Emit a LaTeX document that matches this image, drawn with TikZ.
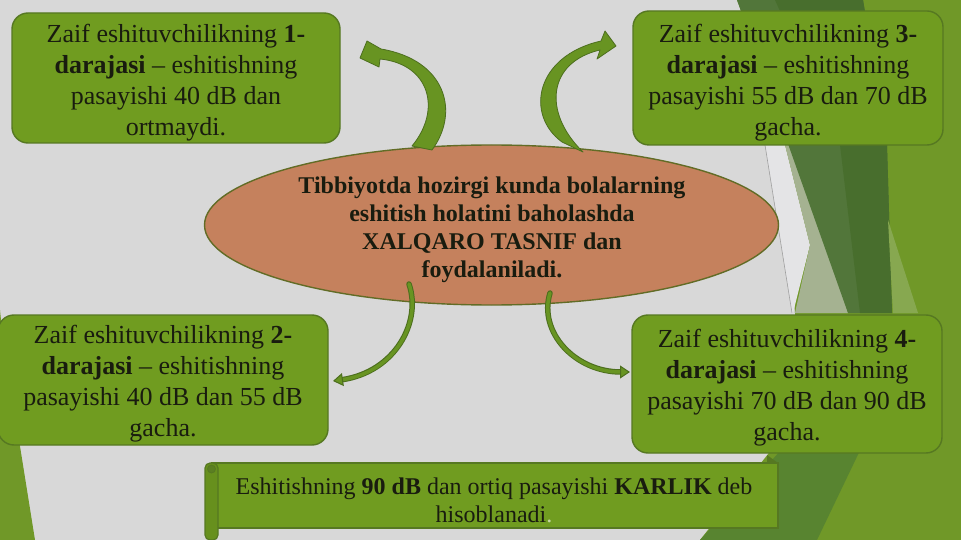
\documentclass[tikz,border=0pt]{standalone}
\usepackage{fontspec}
\setmainfont{Liberation Serif}
\usetikzlibrary{arrows.meta,shapes.geometric}
\definecolor{bg}{RGB}{216,216,216}
\definecolor{boxg}{RGB}{112,156,32}
\definecolor{boxb}{RGB}{86,120,34}
\definecolor{ellf}{RGB}{197,129,93}
\definecolor{ellb}{RGB}{98,108,38}
\definecolor{medg}{RGB}{112,152,40}
\definecolor{darkg}{RGB}{82,118,58}
\definecolor{darkg2}{RGB}{72,110,45}
\definecolor{sage}{RGB}{165,178,145}
\definecolor{whiteish}{RGB}{228,228,230}
\definecolor{lstrip}{RGB}{135,168,80}
\definecolor{botg}{RGB}{88,132,48}
\definecolor{arrowg}{RGB}{104,148,34}
\definecolor{arrowb}{RGB}{76,110,30}
\definecolor{txt}{RGB}{25,28,15}
\begin{document}
\begin{tikzpicture}[x=1pt,y=-1pt,
  gbox/.style={draw=boxb, line width=1.4pt, fill=boxg, rounded corners=16pt, inner sep=0pt},
  gtext/.style={inner sep=0pt, align=center, text=txt, font=\fontsize{26}{31}\selectfont},
  blockarr/.style={fill=arrowg, draw=arrowb, line width=0.8pt, line join=round},
  thinunder/.style={draw=arrowb, line width=5.5pt, line cap=round},
  thinarr/.style={draw=arrowg, line width=3.5pt, line cap=round,
    -{Triangle[length=10pt,width=13pt,line width'=1pt,color=arrowb,fill=arrowg]}}
]
\useasboundingbox (0,0) rectangle (961,540);
% background
\fill[bg] (0,0) rectangle (961,540);
% right facets
\fill[medg] (737,0) -- (961,0) -- (961,540) -- (700,540) -- (795,420) -- (795,313) -- (783,145) -- (760,60) -- cycle;
\fill[whiteish] (765,145) -- (785,145) -- (810,245) -- (793,313) -- (792,313) -- cycle;
\fill[sage] (785,145) -- (795,145) -- (848,313) -- (795,313) -- (810,245) -- cycle;
\fill[darkg] (737,0) -- (863,0) -- (887,145) -- (892,313) -- (848,313) -- cycle;
\fill[darkg2] (775,0) -- (863,0) -- (887,145) -- (892,313) -- (860,313) -- (840,145) -- cycle;
\fill[lstrip] (888,220) -- (893,313) -- (918,313) -- cycle;
\fill[botg] (700,540) -- (790,440) -- (865,440) -- (817,540) -- cycle;
\draw[gray!75, line width=0.6pt] (765,145) -- (792,313);
% left bottom facet
\fill[medg] (0,310) -- (0,540) -- (35,540) -- (19,440) -- (1,320) -- cycle;

% boxes
\node[gbox, minimum width=328pt, minimum height=130pt] (b1) at (176,78) {};
\node[gtext] (b1t) at (176,83)
  {Zaif eshituvchilikning \textbf{1-}\\\textbf{darajasi} – eshitishning\\pasayishi 40 dB dan\\ortmaydi.};
\node[gbox, minimum width=310pt, minimum height=134pt] (b3) at (788,78) {};
\node[gtext] (b3t) at (788,83)
  {Zaif eshituvchilikning \textbf{3-}\\\textbf{darajasi} – eshitishning\\pasayishi 55 dB dan 70 dB\\gacha.};
\node[gbox, minimum width=330pt, minimum height=130pt] (b2) at (163,380) {};
\node[gtext] (b2t) at (163,384)
  {Zaif eshituvchilikning \textbf{2-}\\\textbf{darajasi} – eshitishning\\pasayishi 40 dB dan 55 dB\\gacha.};
\node[gbox, minimum width=310pt, minimum height=138pt] (b4) at (787,384) {};
\node[gtext] (b4t) at (787,388)
  {Zaif eshituvchilikning \textbf{4-}\\\textbf{darajasi} – eshitishning\\pasayishi 70 dB dan 90 dB\\gacha.};

% central ellipse
\node[ellipse, draw=ellb, line width=1.4pt, fill=ellf, minimum width=574pt,
  minimum height=160pt, inner sep=0pt] (ell) at (491.5,225) {};
\node[align=center, inner sep=0pt, text=txt, font=\bfseries\fontsize{24}{28}\selectfont] (elltxt) at (492,230)
  {Tibbiyotda hozirgi kunda bolalarning\\eshitish holatini baholashda\\XALQARO TASNIF dan\\foydalaniladi.};

% thick curved arrows
\path[blockarr] (432,150) .. controls (460,112) and (446,60) .. (381,49)
  -- (367,41) -- (360,58) -- (379,67) -- (380,59)
  .. controls (430,64) and (442,110) .. (412,146) -- cycle;
\path[blockarr] (562,142) .. controls (525,115) and (535,56) .. (601,41)
  -- (605,31) -- (616,46) -- (597,59) -- (600,50)
  .. controls (548,62) and (542,112) .. (583,152) -- cycle;

% thin curved arrows
\coordinate (c2s) at (409,284);
\coordinate (c2e) at (333,381);
\coordinate (c4s) at (550,293);
\coordinate (c4e) at (630,372);
\draw[thinunder, shorten >=9pt] (c2s) .. controls (422,322) and (395,372) .. (c2e);
\draw[thinarr] (c2s) .. controls (422,322) and (395,372) .. (c2e);
\draw[thinunder, shorten >=9pt] (c4s) .. controls (538,332) and (575,372) .. (c4e);
\draw[thinarr] (c4s) .. controls (538,332) and (575,372) .. (c4e);

% bottom scroll banner
\fill[boxb] (767,455) -- (778,463) -- (767,463) -- cycle;
\draw[fill=boxg, draw=boxb, line width=1.2pt] (212,463) rectangle (778,528);
\draw[fill=boxg!92!black, draw=boxb, line width=1.2pt, rounded corners=5pt] (205,463) rectangle (218,540);
\draw[fill=boxb!80!boxg, draw=boxb, line width=0.8pt] (211.5,469) circle (4pt);
\node[align=center, inner sep=0pt, text=txt, font=\fontsize{24}{28}\selectfont] (ban) at (494,500)
  {Eshitishning \textbf{90 dB} dan ortiq pasayishi \textbf{KARLIK} deb\\hisoblanadi{\color{boxg!40!white}.}};
\end{tikzpicture}
\end{document}
